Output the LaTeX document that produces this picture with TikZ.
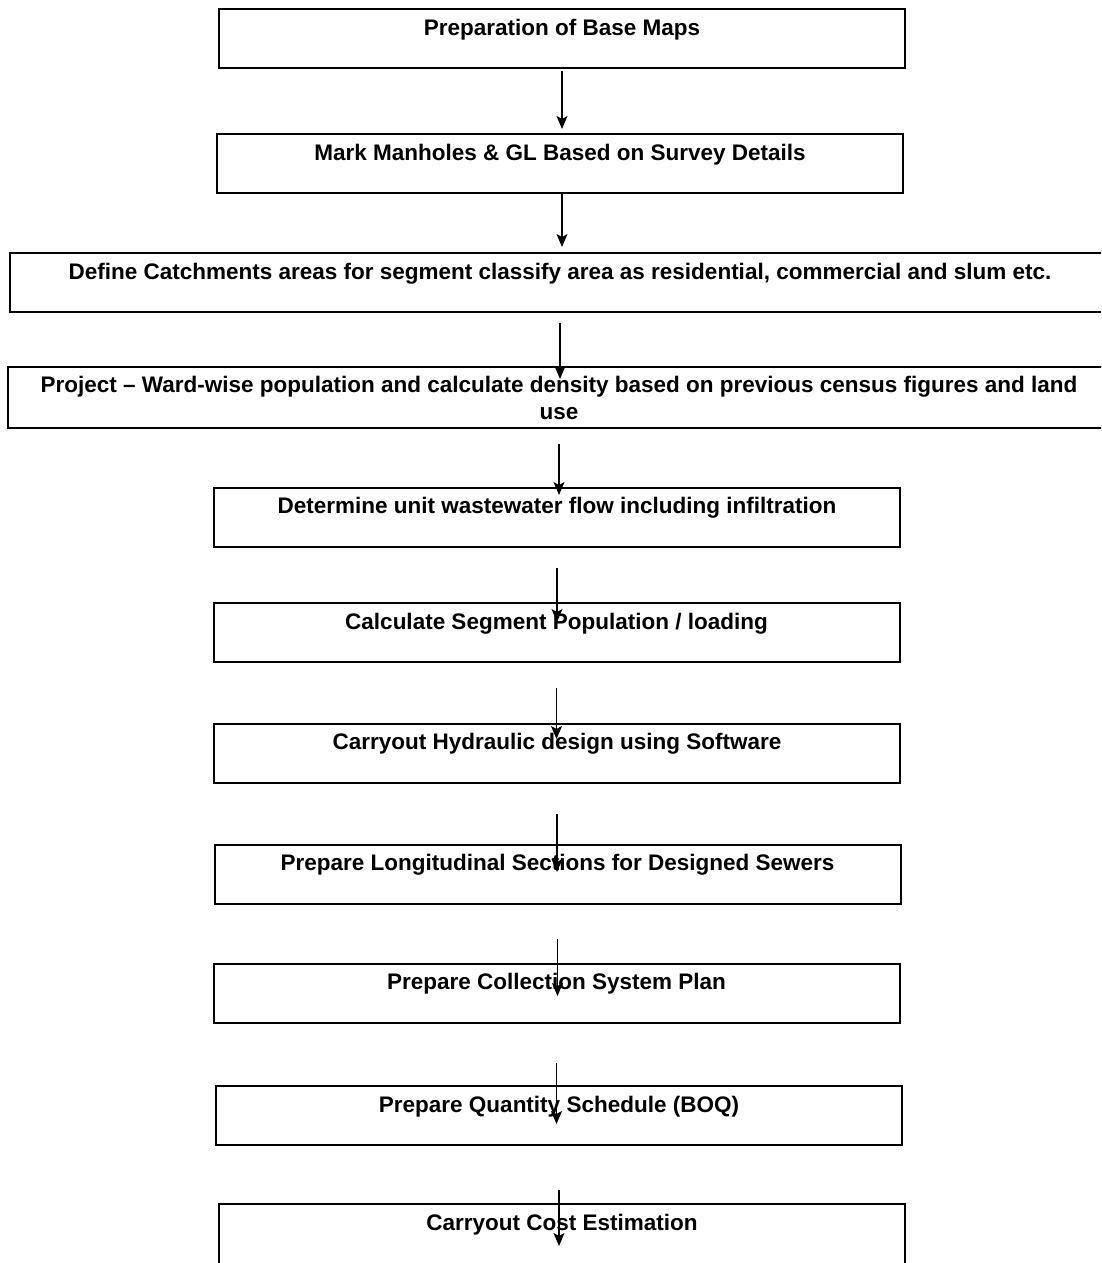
\documentclass[tikz,border=0pt]{standalone}
\usepackage{fontspec}
\setmainfont{Liberation Sans}
\usetikzlibrary{arrows.meta}

\tikzset{
  stepbox/.style={draw, line width=2pt, inner sep=0pt, align=center,
    minimum width=686pt, minimum height=59pt,
    text height=26pt, text depth=33pt,
    font=\fontsize{22.5}{27}\selectfont\bfseries},
  flow/.style={->, line width=1.2pt}
}

\begin{document}
\begin{tikzpicture}[x=1pt,y=-1pt,>={Stealth[length=13pt,width=11pt,inset=3pt]}]
   \clip (0,0) rectangle (1101,1263);
   \node[stepbox] (maps) at (562,39) {Preparation of Base Maps};
   \node[stepbox] (manholes) at (560,163.5) {Mark Manholes \& GL Based on Survey Details};
   \node[stepbox, minimum width=1100pt] (catch) at (560,282.5) {Define Catchments areas for segment classify area as residential, commercial and slum etc.};
   \node[stepbox, minimum width=1102pt, minimum height=61pt, text height=, text depth=] (project) at (559,397.5) {Project – Ward-wise population and calculate density based on previous census figures and land\\use};
   \node[stepbox] (unitflow) at (557,517) {Determine unit wastewater flow including infiltration};
   \node[stepbox] (segpop) at (556.5,632.5) {Calculate Segment Population / loading};
   \node[stepbox] (hydraulic) at (557,753) {Carryout Hydraulic design using Software};
   \node[stepbox] (lsection) at (557.5,874) {Prepare Longitudinal Sections for Designed Sewers};
   \node[stepbox] (plan) at (556.5,993) {Prepare Collection System Plan};
   \node[stepbox] (boq) at (559,1115.5) {Prepare Quantity Schedule (BOQ)};
   \node[stepbox, minimum height=66pt, text depth=40pt] (cost) at (562,1237) {Carryout Cost Estimation};

   \draw[flow, shorten <=1.5pt, shorten >=4pt] (maps.south) -- (maps.south |- manholes.north);
   \draw[flow, shorten >=5pt] ([xshift=2pt]manholes.south) -- ([xshift=2pt]manholes.south |- catch.north);
   \draw[flow, shorten <=10pt, shorten >=-13pt] (catch.south) -- (catch.south |- project.north);
   \draw[flow, shorten <=15pt, shorten >=-8.5pt] (project.south) -- (project.south |- unitflow.north);
   \draw[flow, shorten <=20.5pt, shorten >=-20pt] (unitflow.south) -- (unitflow.south |- segpop.north);
   \draw[flow, shorten <=25pt, shorten >=-16.5pt] (segpop.south) -- (segpop.south |- hydraulic.north);
   \draw[flow, shorten <=30.5pt, shorten >=-28.5pt] (hydraulic.south) -- (hydraulic.south |- lsection.north);
   \draw[flow, shorten <=34.5pt, shorten >=-33.5pt] (lsection.south) -- (lsection.south |- plan.north);
   \draw[flow, shorten <=39.5pt, shorten >=-39pt] (plan.south) -- (plan.south |- boq.north);
   \draw[flow, shorten <=44pt, shorten >=-43pt] (boq.south) -- (boq.south |- cost.north);
\end{tikzpicture}
\end{document}
